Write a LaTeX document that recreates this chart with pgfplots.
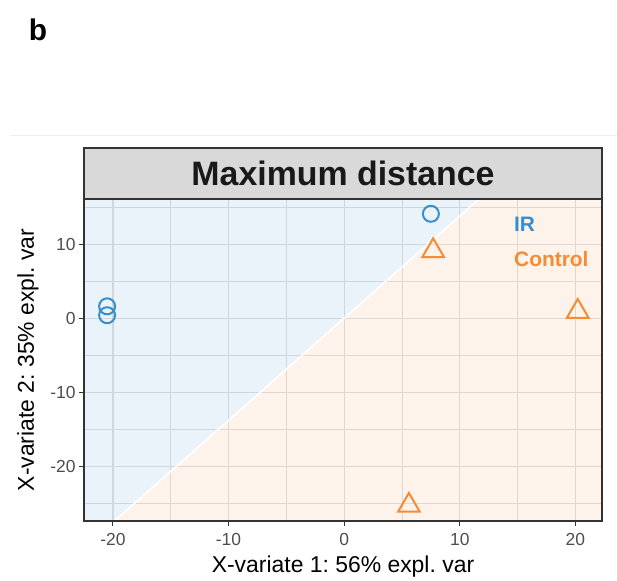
\documentclass[border=0pt]{standalone}
\usepackage{fontspec}
\setmainfont{Liberation Sans}
\usepackage{pgfplots}
\pgfplotsset{compat=1.18}
\frenchspacing

\definecolor{irblue}{HTML}{388ECC}
\definecolor{ctrlorange}{HTML}{F68B33}
\definecolor{panelborder}{HTML}{333333}
\definecolor{stripgray}{HTML}{D9D9D9}
\definecolor{gridgray}{HTML}{E0E0E0}
\definecolor{ticktext}{HTML}{4D4D4D}
\definecolor{sepgray}{HTML}{EEEEEE}

\begin{document}
\begin{tikzpicture}
\useasboundingbox (-84bp,-60bp) rectangle (533bp,521bp);
\begin{axis}[
  scale only axis, width=518bp, height=322bp,
  xmin=-22.5, xmax=22.3, ymin=-27.4, ymax=16.1,
  xtick={-20,-10,0,10,20}, ytick={-20,-10,0,10},
  minor xtick={-15,-5,5,15}, minor ytick={-25,-15,-5,5,15},
  grid=both,
  major grid style={gridgray, line width=1.2bp},
  minor grid style={gridgray, line width=0.9bp},
  tick pos=left, tick align=outside,
  major tick length=5bp, minor tick length=0pt,
  tick style={panelborder, line width=0.9bp},
  axis line style={panelborder, line width=1.3bp},
  /pgf/number format/assume math mode=true,
  ticklabel style={font=\fontsize{17.5}{19}\selectfont, text=ticktext},
  xticklabel style={yshift=-4bp},
  every axis x label/.style={at={(axis description cs:0.5,-0.14)}, anchor=center},
  every axis y label/.style={at={(axis description cs:-0.108,0.5)}, rotate=90, anchor=center},
  label style={font=\fontsize{23}{26}\selectfont},
  xlabel={X-variate 1: 56\% expl. var},
  ylabel={X-variate 2: 35\% expl. var},
  clip mode=individual,
]
% background prediction regions
\addplot[draw=none, fill=irblue, fill opacity=0.1]
  coordinates {(-40,-40) (-28.99,-40) (21.74,30) (-40,30)} -- cycle;
\addplot[draw=none, fill=ctrlorange, fill opacity=0.1]
  coordinates {(-28.99,-40) (40,-40) (40,30) (21.74,30)} -- cycle;
\addplot[white, line width=1.6bp] coordinates {(-28.99,-40) (21.74,30)};

% samples
\addplot[only marks, mark=o, mark size=8bp, irblue, mark options={line width=2bp}]
  coordinates {(-20.5,1.6) (-20.5,0.4) (7.5,14.1)};
\addplot[only marks, mark=triangle, mark size=12.5bp, ctrlorange, mark options={line width=2bp}]
  coordinates {(7.7,9.1) (20.2,0.9) (5.6,-25.3)};

\node[anchor=west, text=irblue, font=\bfseries\fontsize{21}{24}\selectfont] at (axis cs:14.4,12.7) {IR};
\node[anchor=west, text=ctrlorange, font=\bfseries\fontsize{21}{24}\selectfont] at (axis cs:14.4,8.0) {Control};
\end{axis}
% panel border redrawn over the fills
\draw[panelborder, line width=1.3bp] (0,0) rectangle (518bp,322bp);
% facet strip
\draw[panelborder, fill=stripgray, line width=1.3bp] (0,322bp) rectangle (518bp,373bp);
\node[font=\bfseries\fontsize{34}{38}\selectfont, text=black!90] at (259bp,347.5bp) {Maximum distance};
% faint separator and panel letter
\draw[sepgray, line width=0.8bp] (-74bp,386bp) -- (533bp,386bp);
\node[font=\bfseries\fontsize{30}{34}\selectfont] at (-46bp,491bp) {b};
\end{tikzpicture}
\end{document}
